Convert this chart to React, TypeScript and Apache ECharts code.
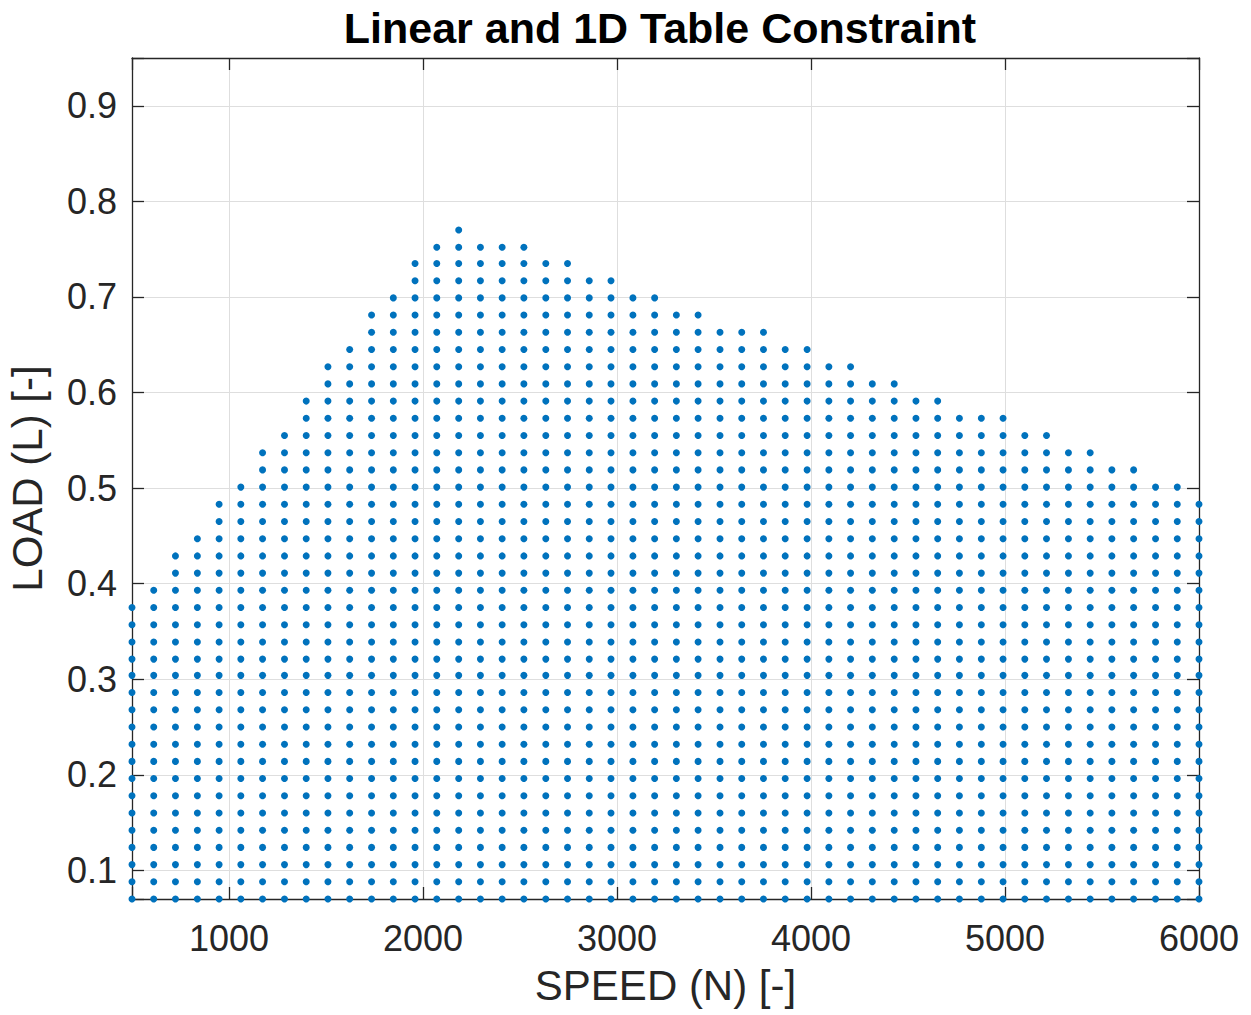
import React, { useEffect, useRef } from "react";
import * as echarts from "echarts";

// Grid of operating points (speed breakpoints and load breakpoints)
const speeds: number[] = [
  500, 612, 724, 837, 949, 1061, 1173, 1286, 1398, 1510,
  1622, 1735, 1847, 1959, 2071, 2184, 2296, 2408, 2520, 2633,
  2745, 2857, 2969, 3082, 3194, 3306, 3418, 3531, 3643, 3755,
  3867, 3980, 4092, 4204, 4316, 4429, 4541, 4653, 4765, 4878,
  4990, 5102, 5214, 5327, 5439, 5551, 5663, 5776, 5888, 6000,
];

const loads: number[] = [
  0.070, 0.088, 0.106, 0.124, 0.142, 0.160, 0.178, 0.196, 0.214, 0.232,
  0.250, 0.268, 0.286, 0.304, 0.321, 0.339, 0.357, 0.375, 0.393, 0.411,
  0.429, 0.447, 0.465, 0.483, 0.501, 0.519, 0.537, 0.555, 0.573, 0.591,
  0.609, 0.627, 0.645, 0.663, 0.681, 0.699, 0.717, 0.735, 0.752, 0.770,
  0.788, 0.806, 0.824, 0.842, 0.860, 0.878, 0.896, 0.914, 0.932, 0.950,
];

// Highest feasible load per speed column
const loadLimit: number[] = [
  0.375, 0.393, 0.429, 0.447, 0.483, 0.501, 0.537, 0.555, 0.591, 0.627,
  0.645, 0.681, 0.699, 0.735, 0.752, 0.770, 0.752, 0.752, 0.752, 0.735,
  0.735, 0.717, 0.717, 0.699, 0.699, 0.681, 0.681, 0.663, 0.663, 0.663,
  0.645, 0.645, 0.627, 0.627, 0.609, 0.609, 0.591, 0.591, 0.573, 0.573,
  0.573, 0.555, 0.555, 0.537, 0.537, 0.519, 0.519, 0.501, 0.501, 0.483,
];

const xTickLabels = ["1000", "2000", "3000", "4000", "5000", "6000"];
const yTickLabels = ["0.1", "0.2", "0.3", "0.4", "0.5", "0.6", "0.7", "0.8", "0.9"];

const TITLE = "Linear and 1D Table Constraint";
const X_NAME = "SPEED (N) [-]";
const Y_NAME = "LOAD (L) [-]";

const FONT = '"Liberation Sans", Arial, Helvetica, sans-serif';
const AXIS_COLOR = "#262626";
const GRID_COLOR = "#dedede";
const DOT_COLOR = "#0072BD";

export default function App() {
  const ref = useRef<HTMLDivElement>(null);

  useEffect(() => {
    if (!ref.current) return;
    const chart = echarts.init(ref.current, null, { renderer: "svg" });

    const points: number[][] = [];
    speeds.forEach((s, i) => {
      loads.forEach((l) => {
        if (l <= loadLimit[i] + 0.0005) points.push([s, l]);
      });
    });

    const xFmt = (v: number) => {
      const s = String(Math.round(v));
      return xTickLabels.includes(s) && Math.abs(v - Math.round(v)) < 1e-6 ? s : "";
    };
    const yFmt = (v: number) => {
      const s = v.toFixed(1);
      return Math.abs(v * 10 - Math.round(v * 10)) < 1e-6 && yTickLabels.includes(s) ? s : "";
    };

    const baseX = {
      type: "value",
      min: 500,
      max: 6000,
      splitNumber: 5,
    };
    const baseY = {
      type: "value",
      min: 0.07,
      max: 0.95,
      splitNumber: 9,
    };

    chart.setOption({
      animation: false,
      backgroundColor: "#ffffff",
      title: {
        text: TITLE,
        left: 655,
        top: 1,
        textAlign: "center",
        textStyle: {
          fontFamily: FONT,
          fontWeight: "bold",
          fontSize: 43,
          color: "#000000",
        },
      },
      grid: {
        left: 132,
        right: 52,
        top: 58,
        bottom: 116,
        containLabel: false,
        outerBoundsMode: "none",
      },
      xAxis: [
        {
          ...baseX,
          position: "bottom",
          name: X_NAME,
          nameLocation: "middle",
          nameGap: 65,
          nameTextStyle: { fontFamily: FONT, fontSize: 42, color: AXIS_COLOR },
          axisLine: { show: true, onZero: false, lineStyle: { color: AXIS_COLOR, width: 1.3 } },
          axisTick: { show: true, inside: true, length: 12, lineStyle: { color: AXIS_COLOR, width: 1.3 } },
          axisLabel: {
            show: true,
            margin: 21,
            fontFamily: FONT,
            fontSize: 36,
            color: AXIS_COLOR,
            formatter: xFmt,
          },
          splitLine: { show: true, lineStyle: { color: GRID_COLOR, width: 1 } },
        },
        {
          ...baseX,
          position: "top",
          axisLine: { show: true, onZero: false, lineStyle: { color: AXIS_COLOR, width: 1.3 } },
          axisTick: { show: true, inside: true, length: 12, lineStyle: { color: AXIS_COLOR, width: 1.3 } },
          axisLabel: { show: false },
          splitLine: { show: false },
        },
      ],
      yAxis: [
        {
          ...baseY,
          position: "left",
          name: Y_NAME,
          nameLocation: "middle",
          nameGap: 84,
          nameTextStyle: { fontFamily: FONT, fontSize: 42, color: AXIS_COLOR },
          axisLine: { show: true, onZero: false, lineStyle: { color: AXIS_COLOR, width: 1.3 } },
          axisTick: { show: true, inside: true, length: 12, lineStyle: { color: AXIS_COLOR, width: 1.3 } },
          axisLabel: {
            show: true,
            margin: 15,
            fontFamily: FONT,
            fontSize: 36,
            color: AXIS_COLOR,
            formatter: yFmt,
          },
          splitLine: { show: true, lineStyle: { color: GRID_COLOR, width: 1 } },
        },
        {
          ...baseY,
          position: "right",
          axisLine: { show: true, onZero: false, lineStyle: { color: AXIS_COLOR, width: 1.3 } },
          axisTick: { show: true, inside: true, length: 12, lineStyle: { color: AXIS_COLOR, width: 1.3 } },
          axisLabel: { show: false },
          splitLine: { show: false },
        },
      ],
      series: [
        {
          type: "scatter",
          xAxisIndex: 0,
          yAxisIndex: 0,
          data: points,
          symbol: "circle",
          symbolSize: 7,
          itemStyle: { color: DOT_COLOR, opacity: 1 },
          z: 5,
        },
      ],
    });

    return () => chart.dispose();
  }, []);

  return (
    <div
      ref={ref}
      style={{ position: "fixed", left: 0, top: 0, width: 1251, height: 1015, background: "#fff" }}
    />
  );
}
